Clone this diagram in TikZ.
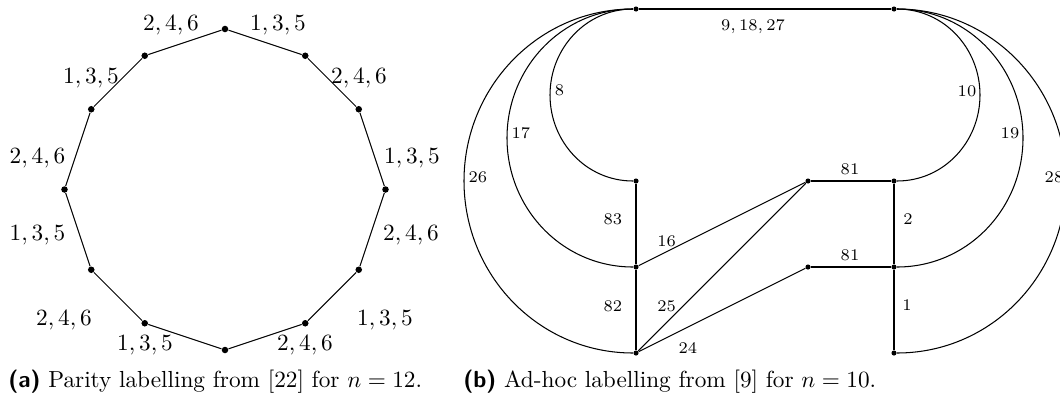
\documentclass[tikz,border=0pt]{standalone}
\usepackage{tikz}
\begin{document}
\begin{tikzpicture}[x=0.43pt,y=0.43pt,
  ldot/.style={circle,fill,inner sep=0pt,minimum size=2.8pt},
  rdot/.style={circle,fill,inner sep=0pt,minimum size=2.2pt},
  lab/.style={anchor=base,inner sep=0pt},
  rlab/.style={anchor=base,inner sep=0pt,font=\scriptsize},
  captxt/.style={anchor=base west,inner sep=0pt},
  ln/.style={line width=0.45pt}]
\clip (0,0) rectangle (1060,399);
% ---------- (a) ----------
\foreach \a/\b [count=\i from 0] in {0/6,-3/5,-5/3,-6/0,-5/-3,-3/-5,0/-6,3/-5,5/-3,6/0,5/3,3/5}
  \node[ldot] (v\i) at (225+26.75*\a, 209.5+26.75*\b) {};
\draw[ln] (v0)--(v1)--(v2)--(v3)--(v4)--(v5)--(v6)--(v7)--(v8)--(v9)--(v10)--(v11)--(v0);
\node[lab] (la1) at (171,369) {$2,4,6$};
\node[lab] (la2) at (278,369) {$1,3,5$};
\node[lab] (la3) at (91,316) {$1,3,5$};
\node[lab] (la4) at (359,316) {$2,4,6$};
\node[lab] (la5) at (37.5,236) {$2,4,6$};
\node[lab] (la6) at (412,236) {$1,3,5$};
\node[lab] (la7) at (37.5,159) {$1,3,5$};
\node[lab] (la8) at (411,159) {$2,4,6$};
\node[lab] (la9) at (64,74) {$2,4,6$};
\node[lab] (la10) at (385,74) {$1,3,5$};
\node[lab] (la11) at (145,49) {$1,3,5$};
\node[lab] (la12) at (305,49) {$2,4,6$};
\node[captxt] (capa) at (8,12) {\textsf{\textbf{(a)}} Parity labelling from [22] for $n=12$.};
% ---------- (b) ----------
\node[rdot] (T1) at (636,390) {};
\node[rdot] (T2) at (894,390) {};
\node[rdot] (A) at (636,218) {};
\node[rdot] (B) at (636,132) {};
\node[rdot] (C) at (636,46) {};
\node[rdot] (P) at (808,218) {};
\node[rdot] (Q) at (808,132) {};
\node[rdot] (D) at (894,218) {};
\node[rdot] (E) at (894,132) {};
\node[rdot] (F) at (894,46) {};
\coordinate (L8) at (550,304);
\coordinate (L17) at (507,261);
\coordinate (L26) at (464,218);
\coordinate (R10) at (980,304);
\coordinate (R19) at (1023,261);
\coordinate (R28) at (1066,218);
\draw[ln] (T1) -- (T2);
\draw[ln] (T1) to[out=180,in=90] (L8) to[out=-90,in=180] (A);
\draw[ln] (T1) to[out=180,in=90] (L17) to[out=-90,in=180] (B);
\draw[ln] (T1) to[out=180,in=90] (L26) to[out=-90,in=180] (C);
\draw[ln] (T2) to[out=0,in=90] (R10) to[out=-90,in=0] (D);
\draw[ln] (T2) to[out=0,in=90] (R19) to[out=-90,in=0] (E);
\draw[ln] (T2) to[out=0,in=90] (R28) to[out=-90,in=0] (F);
\draw[ln] (A) -- (B) -- (C);
\draw[ln] (D) -- (E) -- (F);
\draw[ln] (P) -- (D);
\draw[ln] (Q) -- (E);
\draw[ln] (B) -- (P);
\draw[ln] (C) -- (P);
\draw[ln] (C) -- (Q);
\node[rlab] (lb1) at (753,369) {$9,18,27$};
\node[rlab] (lb2) at (559.5,304) {$8$};
\node[rlab] (lb3) at (521,261) {$17$};
\node[rlab] (lb4) at (478,217) {$26$};
\node[rlab] (lb5) at (967,303) {$10$};
\node[rlab] (lb6) at (1010,261) {$19$};
\node[rlab] (lb7) at (1054,217) {$28$};
\node[rlab] (lb8) at (850,225) {$81$};
\node[rlab] (lb9) at (850,139) {$81$};
\node[rlab] (lb10) at (613,175) {$83$};
\node[rlab] (lb11) at (613,88) {$82$};
\node[rlab] (lb12) at (666.7,153) {$16$};
\node[rlab] (lb13) at (666.7,88) {$25$};
\node[rlab] (lb14) at (688,46) {$24$};
\node[rlab] (lb15) at (908,175) {$2$};
\node[rlab] (lb16) at (907,89) {$1$};
\node[captxt] (capb) at (463,12) {\textsf{\textbf{(b)}} Ad-hoc labelling from [9] for $n=10$.};
\end{tikzpicture}
\end{document}
